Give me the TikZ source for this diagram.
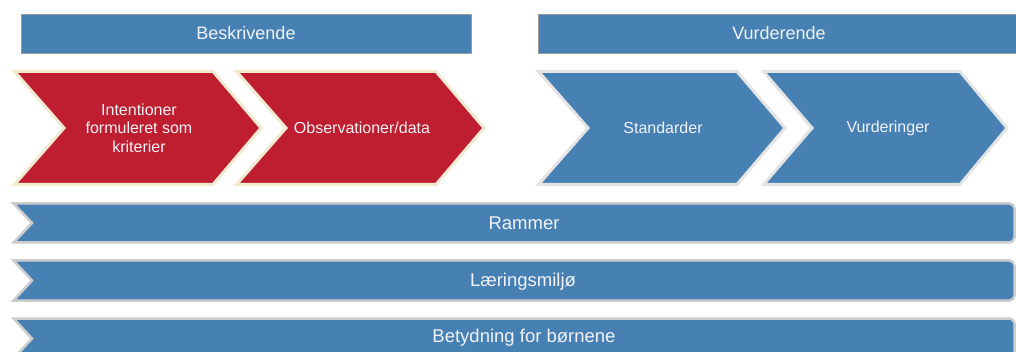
\documentclass[tikz,border=0pt]{standalone}
\usepackage{fontspec}
\setmainfont{Liberation Sans}
\definecolor{stblue}{RGB}{71,129,179}
\definecolor{chred}{RGB}{190,30,48}
\definecolor{txtc}{RGB}{240,242,246}
\definecolor{cream}{RGB}{242,234,208}
\definecolor{lgray}{RGB}{228,228,228}
\definecolor{bgray}{RGB}{205,205,205}
\tikzset{
  hdr/.style={fill=stblue, draw=black!40, line width=0.8pt},
  redchev/.style={fill=chred, draw=cream, line width=3pt, line join=miter},
  bluechev/.style={fill=stblue, draw=lgray, line width=3pt, line join=miter},
  barshape/.style={fill=stblue, draw=bgray, line width=2.5pt},
  hdrtxt/.style={text=txtc, font=\fontsize{18}{21}\selectfont, inner sep=0pt},
  chtxt/.style={text=txtc, font=\fontsize{16}{18.4}\selectfont, align=center, inner sep=0pt},
  bartxt/.style={text=txtc, font=\fontsize{18.5}{21}\selectfont, inner sep=0pt},
}
\begin{document}
\begin{tikzpicture}[x=1pt,y=-1pt]
\useasboundingbox (0,0) rectangle (1016,352);
\clip (0,0) rectangle (1016,352);
% header bars
\draw[hdr] (21,14) rectangle (471,53);
\node[hdrtxt] (beskr) at (246,33.5) {Beskrivende};
\draw[hdr] (538,14) rectangle (1030,53);
\node[hdrtxt] (vurd) at (779,33.5) {Vurderende};
% chevrons
\draw[redchev] (14.5,71.5) -- (213,71.5) -- (261,128) -- (213,184.5) -- (14.5,184.5) -- (64,128) -- cycle;
\node[chtxt] (intent) at (139,128) {Intentioner\\formuleret som\\kriterier};
\draw[redchev] (236.5,71.5) -- (436,71.5) -- (484,128) -- (436,184.5) -- (236.5,184.5) -- (286,128) -- cycle;
\node[chtxt] (obs) at (362,128) {Observationer/data};
\draw[bluechev] (538.5,71.5) -- (737,71.5) -- (785,128) -- (737,184.5) -- (538.5,184.5) -- (588,128) -- cycle;
\node[chtxt] (std) at (663,128) {Standarder};
\draw[bluechev] (763.5,71.5) -- (960,71.5) -- (1007,128) -- (960,184.5) -- (763.5,184.5) -- (812,128) -- cycle;
\node[chtxt] (vurderinger) at (888,128) {Vurderinger};
% horizontal bars
\draw[barshape] (13.5,203.5) -- (1000,203.5) [rounded corners=5] -- (1014.5,203.5) -- (1014.5,242.5) -- (1000,242.5) [sharp corners] -- (13.5,242.5) -- (32,223) -- cycle;
\node[bartxt] (rammer) at (524,223) {Rammer};
\draw[barshape] (13.5,260.5) -- (1000,260.5) [rounded corners=5] -- (1014.5,260.5) -- (1014.5,300.5) -- (1000,300.5) [sharp corners] -- (13.5,300.5) -- (32,280.5) -- cycle;
\node[bartxt] (laering) at (523,281.5) {Læringsmiljø};
\draw[barshape] (13.5,318.5) -- (1000,318.5) [rounded corners=5] -- (1014.5,318.5) -- (1014.5,358.5) -- (1000,358.5) [sharp corners] -- (13.5,358.5) -- (32,338.5) -- cycle;
\node[bartxt] (betyd) at (524,338) {Betydning for børnene};
\end{tikzpicture}
\end{document}
